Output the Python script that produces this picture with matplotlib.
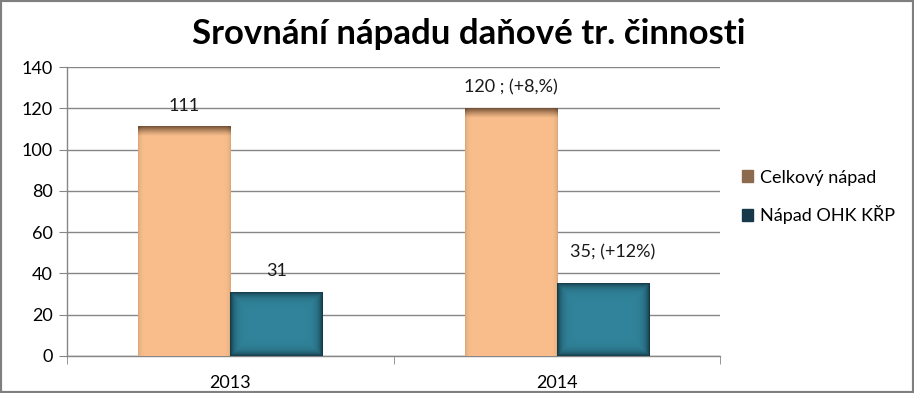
import numpy as np
import matplotlib
matplotlib.use("Agg")
import matplotlib.pyplot as plt
from matplotlib.colors import to_rgb
from matplotlib.patches import Rectangle

plt.rcParams['font.family'] = ['Lato', 'DejaVu Sans']

# data
years = ["2013", "2014"]
celkovy = [111, 120]
ohk = [31, 35]
celkovy_labels = ["111", "120 ; (+8,%)"]
ohk_labels = ["31", "35; (+12%)"]
series_names = ["Celkový nápad", "Nápad OHK KŘP"]

ORANGE = "#F9BE8C"
ORANGE_DARK = "#6E4E33"
TEAL = "#31849B"
TEAL_DARK = "#10303C"


def shaded_bar(ax, x, w, h, base, dark, top_only):
    """bar filled with an inner-shadow gradient drawn via imshow"""
    ny, nx = 400, 100
    yy = np.linspace(0, 1, ny)[:, None]
    xx = np.linspace(0, 1, nx)[None, :]
    hpx = max(h * 2.064, 1)
    wpx = w * 326.5
    d_top = (1 - yy) * hpx
    d_bot = yy * hpx
    d_side = np.minimum(xx, 1 - xx) * wpx
    if top_only:
        k = np.clip(1 - d_top / 10.0, 0, 1) ** 1.3 * 0.95 + np.exp(-d_side / 2.0) * 0.2 + 0 * d_bot
    else:
        d = np.minimum(np.minimum(d_top, d_bot), d_side)
        k = np.exp(-d / 4.0) * 0.9
    k = np.clip(k, 0, 1)[..., None]
    img = (1 - k) * np.array(to_rgb(base)) + k * np.array(to_rgb(dark))
    ax.imshow(img, extent=(x - w / 2, x + w / 2, 0, h), origin="lower",
              aspect="auto", zorder=3, interpolation="bilinear")


fig = plt.figure(figsize=(9.14, 3.93), dpi=100)
ax = fig.add_axes([67 / 914, 1 - 356 / 393, (720 - 67) / 914, (356 - 67) / 393])

x = np.arange(len(years)) + 0.5
w = 0.282
off = 0.141

for xi, v, lab in zip(x, celkovy, celkovy_labels):
    shaded_bar(ax, xi - off, w, v, ORANGE, ORANGE_DARK, True)
    ax.text(xi - off, v + 10, lab, ha="center", va="center", fontsize=13, color="#1a1a1a", zorder=5)
for i, (xi, v, lab) in enumerate(zip(x, ohk, ohk_labels)):
    shaded_bar(ax, xi + off, w, v, TEAL, TEAL_DARK, False)
    dy, dx = (10, 0) if i == 0 else (15, 0.03)
    ax.text(xi + off + dx, v + dy, lab, ha="center", va="center", fontsize=13, color="#1a1a1a", zorder=5)

ax.set_xlim(0, 2)
ax.set_ylim(0, 140)
ax.set_yticks(np.arange(0, 141, 20))
ax.grid(axis="y", color="#868686", linewidth=1)
ax.set_axisbelow(True)
ax.set_xticks(x)
ax.set_xticklabels(years, fontsize=13)
ax.set_xticks([0, 1, 2], minor=True)
ax.tick_params(axis="x", which="major", length=0, pad=14)
ax.tick_params(axis="x", which="minor", length=6, color="#868686", direction="out")
ax.tick_params(axis="y", length=6, color="#868686", labelsize=13, pad=4)
for s in ["top", "right"]:
    ax.spines[s].set_visible(False)
for s in ["left", "bottom"]:
    ax.spines[s].set_color("#868686")
    ax.spines[s].set_linewidth(1)

# legend
handles = [Rectangle((0, 0), 1, 1, color="#8C6A4E"), Rectangle((0, 0), 1, 1, color="#17374A")]
fig.legend(handles, series_names, loc="center left", bbox_to_anchor=(726 / 914, 1 - 197 / 393),
           frameon=False, fontsize=13, handlelength=0.6, handleheight=0.6,
           handletextpad=0.4, labelspacing=1.1)

fig.text(0.5 * (190 + 748) / 914, 1 - 34 / 393, "Srovnání nápadu daňové tr. činnosti",
         ha="center", va="center", fontsize=25, fontweight="bold", color="black")

# outer frame
fig.patches.append(Rectangle((0, 0), 1, 1, transform=fig.transFigure, fill=False,
                             edgecolor="#7f7f7f", linewidth=3))

fig.savefig("out.png", dpi=100)
